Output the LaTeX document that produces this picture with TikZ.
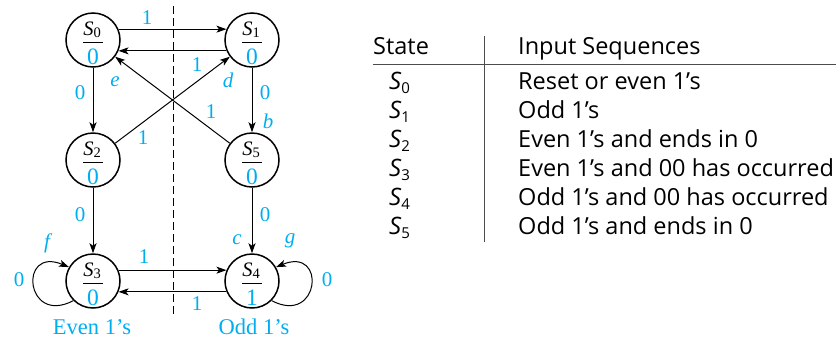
\documentclass[tikz,border=0pt]{standalone}
\usepackage{fontspec}
\setmainfont{Liberation Serif}
\newfontfamily\tabfont{Open Sans}
\usetikzlibrary{arrows.meta}
\definecolor{lblue}{RGB}{0,174,239}
\begin{document}
\begin{tikzpicture}[x=1pt,y=-1pt,
  state/.style={circle,draw,line width=1.5pt,minimum size=54pt,inner sep=0pt},
  edge/.style={draw,line width=1pt,-{Stealth[length=10pt,width=7pt,inset=2.5pt]}},
  lbl/.style={text=lblue,font=\fontsize{21}{21}\selectfont,inner sep=0pt},
  ilbl/.style={lbl,font=\fontsize{21}{21}\selectfont\itshape},
  sname/.style={anchor=base,inner sep=0pt,font=\fontsize{20.5}{20.5}\selectfont},
  sout/.style={anchor=base,inner sep=0pt,text=lblue,font=\fontsize{23.5}{23.5}\selectfont},
  tab/.style={anchor=base west,inner sep=0pt,font=\tabfont\fontsize{23.5}{23.5}\selectfont},
  tabS/.style={anchor=base west,inner sep=0pt,font=\tabfont\fontsize{24}{24}\selectfont\itshape},
]
\useasboundingbox (0,0) rectangle (836,338);
% states
\foreach \n/\cx/\cy/\o in {0/93/40/0,1/252/40/0,2/93/160/0,5/252/160/0,3/93/281/0,4/252/281/1}{
  \node[state] (S\n) at (\cx,\cy) {};
  \node[sname] (S\n n) at (\cx-1,\cy-5) {\textit{S}\raisebox{-0.25ex}{\fontsize{14.5}{14.5}\selectfont\n}};
  \draw[line width=1pt] (\cx-10,\cy+2) -- (\cx+9.5,\cy+2);
  \node[sout] (S\n o) at (\cx,\cy+24.5) {\o};
}
% dashed divider
\draw[line width=1pt,dash pattern=on 8pt off 4pt] (173,6) -- (173,317);
% edges
\draw[edge] (S0.23) -- (S1.157);
\draw[edge] (S1.203) -- (S0.337);
\draw[edge] (S0) -- (S2);
\draw[edge] (S1) -- (S5);
\draw[edge] (S2) -- (S1);
\draw[edge] (S5) -- (S0);
\draw[edge] (S2) -- (S3);
\draw[edge] (S5) -- (S4);
\draw[edge] (S3.23) -- (S4.157);
\draw[edge] (S4.203) -- (S3.337);
\draw[edge] (S3.225) .. controls (25,326) and (18,246) .. (S3.150);
\draw[edge] (S4.315) .. controls (320,326) and (327,246) .. (S4.30);
% labels
\node[lbl] (l01) at (147,18) {1};
\node[lbl] (l10) at (197,65) {1};
\node[ilbl] (ld) at (228,80) {d};
\node[ilbl] (le) at (115,82) {e};
\node[lbl] (l02) at (80,93) {0};
\node[lbl] (l15) at (265,93) {0};
\node[ilbl] (lb) at (268,121) {b};
\node[lbl] (l50) at (211,112) {1};
\node[lbl] (l21) at (143,138) {1};
\node[lbl] (l23) at (80,215) {0};
\node[lbl] (l54) at (265,215) {0};
\node[ilbl] (lf) at (47,243) {f};
\node[ilbl] (lc) at (237,240) {c};
\node[ilbl] (lg) at (290,241) {g};
\node[lbl] (l34) at (144,257) {1};
\node[lbl] (l33) at (19,280) {0};
\node[lbl] (l44) at (327,280) {0};
\node[lbl] (l43) at (197,304) {1};
\node[lbl,font=\fontsize{22.5}{22.5}\selectfont] (even) at (92,327) {Even 1’s};
\node[lbl,font=\fontsize{22.5}{22.5}\selectfont] (odd) at (254,327) {Odd 1’s};
% table
\draw[line width=1pt,black!70] (484,36) -- (484,242);
\draw[line width=1pt,black!70] (373,64) -- (836,64);
\node[tab] (hs) at (373,54) {State};
\node[tab] (hi) at (518,54) {Input Sequences};
\foreach \i/\t in {0/Reset or even 1’s,1/Odd 1’s,2/Even 1’s and ends in 0,3/Even 1’s and 00 has occurred,4/Odd 1’s and 00 has occurred,5/Odd 1’s and ends in 0}{
  \node[tabS] (ts\i) at (389,89.5+29*\i) {S\raisebox{-0.3ex}{\upshape\fontsize{15}{15}\selectfont\i}};
  \node[tab] (tt\i) at (518,89.5+29*\i) {\t};
}
\end{tikzpicture}
\end{document}
